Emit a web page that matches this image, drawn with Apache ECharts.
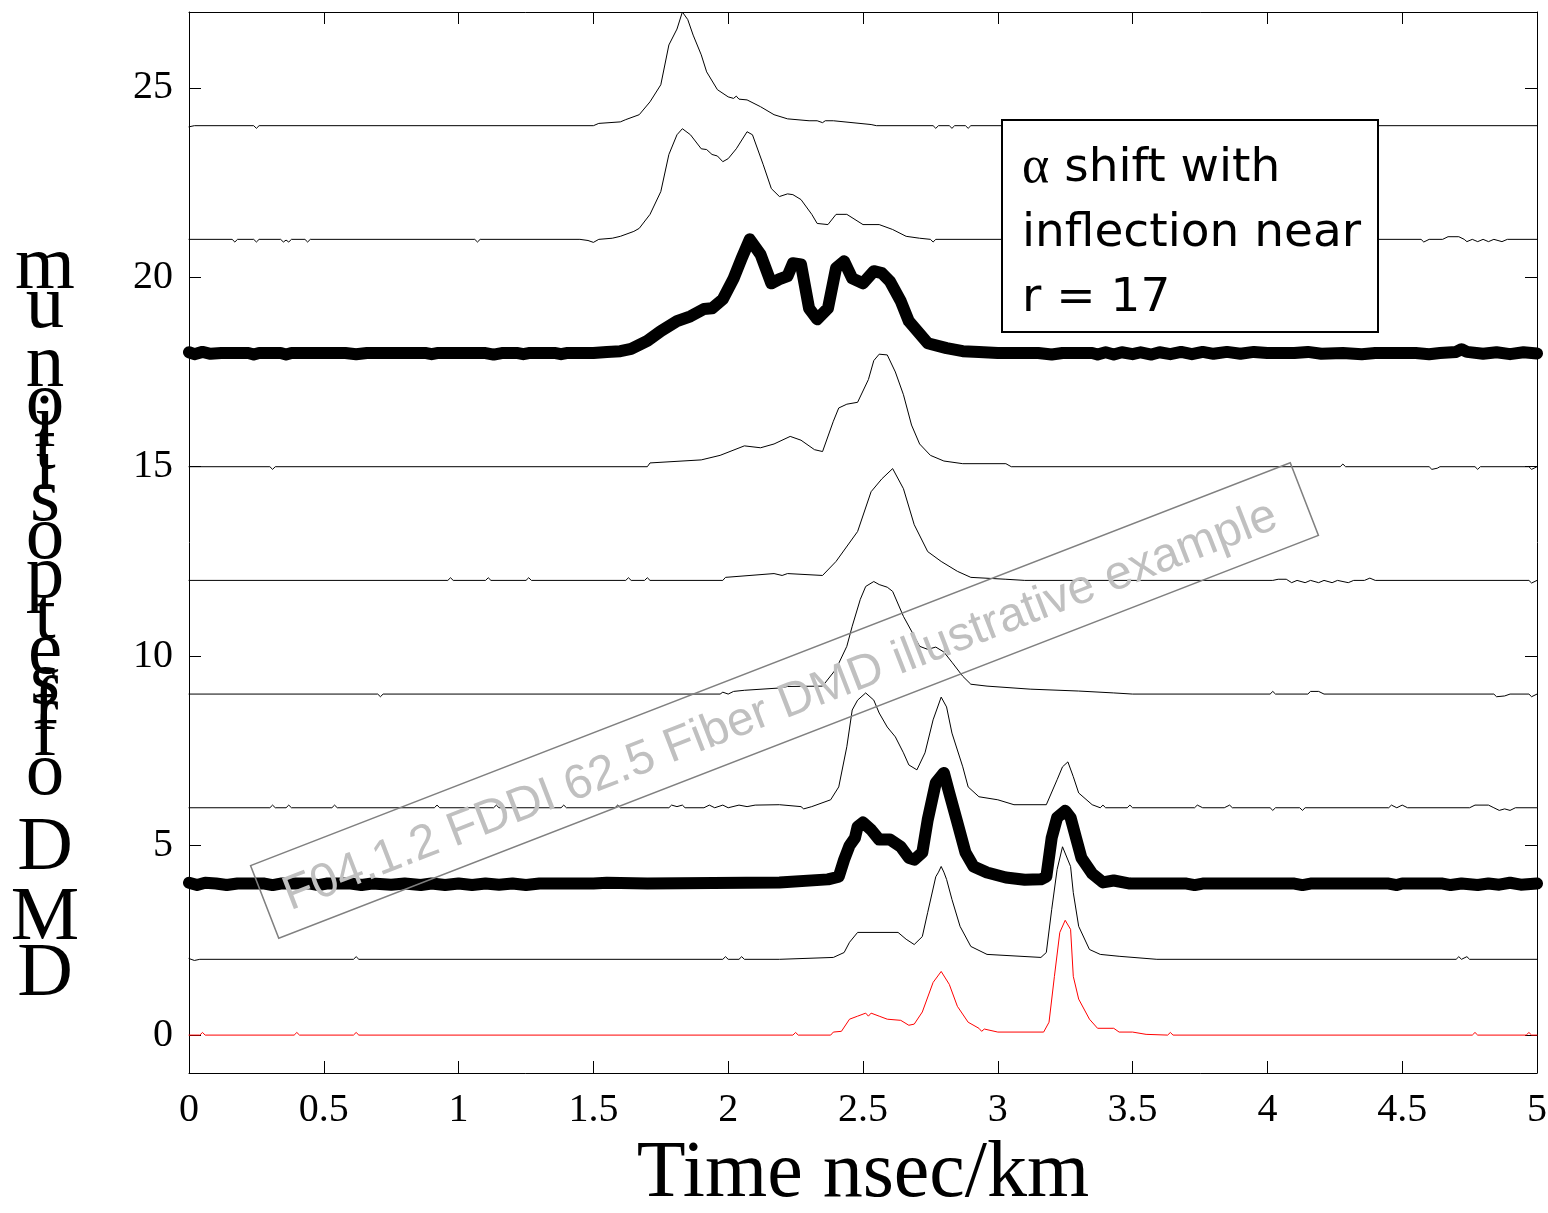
<!DOCTYPE html>
<html><head><meta charset="utf-8">
<script src="https://cdn.jsdelivr.net/npm/echarts@6/dist/echarts.min.js"></script>
<style>html,body{margin:0;padding:0;background:#fff;overflow:hidden}#c{width:1548px;height:1213px}</style>
</head><body><div id="c"></div>
<script>
// ---------------- DATA ----------------
const yTickValues = [0, 5, 10, 15, 20, 25];
const xTitle = 'Time nsec/km';
const yTitle = 'DMD offset position um';
const noteLines = ['α shift with', 'inflection near', 'r = 17'];
const watermarkText = 'F04.1.2 FDDI 62.5 Fiber DMD illustrative example';

const trace24 = [[0,23.97],[0.02,24],[0.24,24],[0.25,23.93],[0.26,24],[1.5,24],[1.52,24.06],[1.6,24.1],[1.62,24.16],[1.67,24.29],[1.71,24.63],[1.75,25.08],[1.78,26.13],[1.81,26.55],[1.83,27.0],[1.85,26.8],[1.87,26.39],[1.90,25.87],[1.92,25.42],[1.96,24.95],[2.00,24.76],[2.02,24.72],[2.03,24.78],[2.04,24.7],[2.07,24.68],[2.12,24.5],[2.17,24.29],[2.22,24.18],[2.30,24.13],[2.33,24.13],[2.35,24.08],[2.36,24.13],[2.39,24.13],[2.53,24.03],[2.55,24],[2.76,24],[2.77,23.93],[2.78,24],[2.82,24],[2.83,23.93],[2.84,24],[2.88,24],[2.89,23.93],[2.9,24],[3.6,24],[3.61,23.93],[3.62,24],[5,24]];

const trace21 = [[0,21],[0.16,21],[0.17,20.93],[0.18,21],[0.24,21],[0.25,20.93],[0.26,21],[0.34,21],[0.35,20.93],[0.36,20.98],[0.37,20.93],[0.38,21],[0.43,21],[0.44,20.93],[0.45,21],[1.06,21],[1.07,20.93],[1.08,21],[1.45,21],[1.48,20.97],[1.50,20.92],[1.52,21],[1.57,21.03],[1.60,21.08],[1.65,21.21],[1.67,21.29],[1.71,21.66],[1.75,22.26],[1.78,23.24],[1.81,23.76],[1.83,23.92],[1.86,23.76],[1.90,23.39],[1.92,23.37],[1.94,23.24],[1.96,23.2],[1.98,23.05],[2.00,23.13],[2.03,23.39],[2.07,23.84],[2.09,23.76],[2.13,22.97],[2.16,22.34],[2.19,22.13],[2.22,22.2],[2.24,22.18],[2.27,22.05],[2.31,21.66],[2.33,21.42],[2.37,21.39],[2.40,21.66],[2.44,21.66],[2.50,21.39],[2.56,21.39],[2.61,21.26],[2.66,21.08],[2.71,21.03],[2.75,21],[2.76,20.93],[2.77,21],[3.2,21],[3.21,20.93],[3.22,21],[4.0,21],[4.02,20.93],[4.04,21],[4.57,21],[4.58,20.93],[4.6,21],[4.65,21],[4.67,21.07],[4.71,21.07],[4.73,21],[4.74,20.94],[4.76,21],[4.78,20.94],[4.8,21],[4.82,20.94],[4.84,21],[4.87,20.94],[4.89,21],[5,21]];

const trace18 = [[0,18.02],[0.02,17.97],[0.05,18.03],[0.08,17.98],[0.12,18.0],[0.22,18.0],[0.24,17.96],[0.26,18.0],[0.34,18.0],[0.36,17.96],[0.38,18.0],[0.58,18.0],[0.62,17.97],[0.66,18.0],[0.88,18.0],[0.9,17.97],[0.92,18.0],[1.1,18.0],[1.13,17.96],[1.16,18.0],[1.22,18.0],[1.24,17.97],[1.26,18.0],[1.36,18.0],[1.38,17.97],[1.4,18.0],[1.5,18.0],[1.55,18.03],[1.6,18.05],[1.64,18.11],[1.70,18.32],[1.75,18.58],[1.81,18.84],[1.86,18.97],[1.91,19.16],[1.94,19.18],[1.98,19.42],[2.02,19.97],[2.05,20.5],[2.08,21.0],[2.12,20.6],[2.16,19.84],[2.19,19.95],[2.22,20.03],[2.24,20.37],[2.27,20.34],[2.30,19.18],[2.33,18.89],[2.37,19.18],[2.40,20.24],[2.43,20.42],[2.46,19.97],[2.50,19.84],[2.54,20.16],[2.57,20.11],[2.60,19.89],[2.64,19.37],[2.67,18.84],[2.74,18.26],[2.81,18.13],[2.87,18.05],[2.93,18.03],[3.0,18.0],[3.15,18.0],[3.2,17.96],[3.24,18.0],[3.35,18.0],[3.37,17.96],[3.4,18.02],[3.43,17.96],[3.46,18.02],[3.5,17.97],[3.53,18.02],[3.57,17.96],[3.6,18.02],[3.64,17.97],[3.68,18.03],[3.72,17.97],[3.76,18.03],[3.8,17.98],[3.85,18.03],[3.9,17.98],[3.95,18.03],[4.0,18.0],[4.1,18.0],[4.15,18.03],[4.2,17.98],[4.28,18.0],[4.35,17.97],[4.4,18.0],[4.55,18.0],[4.6,17.97],[4.64,18.0],[4.7,18.03],[4.72,18.1],[4.74,18.03],[4.8,17.98],[4.85,18.02],[4.9,17.97],[4.95,18.02],[5,17.99]];

const trace15 = [[0,15],[0.3,15],[0.31,14.93],[0.32,15],[1.7,15],[1.71,15.1],[1.90,15.18],[1.97,15.3],[2.06,15.55],[2.12,15.5],[2.17,15.6],[2.23,15.8],[2.27,15.7],[2.32,15.45],[2.35,15.4],[2.39,16.2],[2.41,16.55],[2.44,16.65],[2.48,16.7],[2.52,17.3],[2.54,17.8],[2.56,17.97],[2.59,17.95],[2.62,17.5],[2.65,16.9],[2.68,16.1],[2.71,15.6],[2.75,15.3],[2.80,15.15],[2.87,15.08],[3.03,15.08],[3.05,15.0],[4.27,15],[4.28,15.07],[4.29,15],[4.6,15],[4.61,14.93],[4.63,14.96],[4.64,15],[4.77,15],[4.78,14.93],[4.79,15],[4.97,15],[4.98,14.93],[5,15]];

const trace12 = [[0,12],[0.96,12],[0.97,12.07],[0.98,12],[1.10,12],[1.11,12.07],[1.12,12],[1.25,12],[1.26,12.07],[1.27,12],[1.62,12],[1.63,12.07],[1.64,12],[1.69,12],[1.70,12.07],[1.71,12],[1.98,12],[1.99,12.08],[2.17,12.18],[2.20,12.13],[2.22,12.18],[2.35,12.13],[2.40,12.5],[2.48,13.29],[2.53,14.34],[2.57,14.68],[2.61,14.95],[2.65,14.42],[2.69,13.47],[2.74,12.76],[2.79,12.5],[2.85,12.24],[2.90,12.08],[3.03,12.03],[3.10,12.0],[4.02,12],[4.04,12.03],[4.07,12.03],[4.09,11.94],[4.11,12],[4.14,11.94],[4.16,12],[4.19,11.94],[4.21,12],[4.24,11.94],[4.26,12],[4.3,11.94],[4.32,12],[4.36,12],[4.38,12.06],[4.4,12],[4.97,12],[4.98,11.93],[5,12]];

const trace9 = [[0,9],[0.70,9],[0.71,8.93],[0.72,9],[1.97,9],[1.98,9.05],[2.0,9.0],[2.02,9.07],[2.06,9.1],[2.19,9.16],[2.22,9.2],[2.35,9.21],[2.40,9.66],[2.44,10.26],[2.46,10.79],[2.49,11.5],[2.51,11.84],[2.54,11.97],[2.56,11.89],[2.59,11.82],[2.61,11.71],[2.65,11.05],[2.69,10.53],[2.71,10.26],[2.74,10.18],[2.77,10.24],[2.80,10.11],[2.83,9.84],[2.87,9.47],[2.90,9.26],[2.96,9.21],[3.12,9.13],[3.30,9.08],[3.43,9.03],[3.5,9],[4.01,9],[4.02,9.07],[4.03,9],[4.15,9],[4.16,9.07],[4.19,9.07],[4.21,9],[4.84,9],[4.85,8.93],[4.88,8.95],[4.9,9],[4.97,9],[4.98,8.93],[5,9]];

const trace6 = [[0,6],[0.30,6],[0.31,6.07],[0.32,6],[0.36,6],[0.37,6.07],[0.38,6],[0.53,6],[0.54,6.07],[0.55,6],[0.91,6],[0.92,6.07],[0.93,6],[1.13,6],[1.14,6.07],[1.15,6],[1.38,6],[1.39,6.07],[1.40,6],[1.58,6],[1.59,6.07],[1.60,6],[1.78,6],[1.79,6.07],[1.81,6.03],[1.83,6.07],[1.84,6],[1.91,6],[1.93,6.07],[1.95,6],[1.98,6.07],[2.0,6],[2.04,6.07],[2.07,6.03],[2.10,6.07],[2.19,6.08],[2.27,6.03],[2.28,5.97],[2.31,6.03],[2.38,6.21],[2.41,6.55],[2.44,7.61],[2.46,8.58],[2.48,8.84],[2.51,9.03],[2.54,8.84],[2.56,8.5],[2.59,8.13],[2.62,7.87],[2.65,7.45],[2.67,7.13],[2.70,7.0],[2.73,7.45],[2.76,8.32],[2.79,8.92],[2.81,8.66],[2.83,7.97],[2.87,7.08],[2.89,6.55],[2.93,6.29],[3.00,6.21],[3.06,6.08],[3.18,6.08],[3.22,6.74],[3.24,7.08],[3.26,7.21],[3.28,6.82],[3.30,6.39],[3.35,6.08],[3.38,6.0],[3.39,6.07],[3.40,6],[3.48,6],[3.49,6.07],[3.50,6],[3.73,6],[3.74,6.07],[3.76,6],[3.84,6],[3.86,6.07],[3.87,6],[4.01,6],[4.02,5.93],[4.03,6],[4.12,6],[4.13,5.93],[4.14,6],[4.45,6],[4.46,6.07],[4.48,6],[4.50,6.07],[4.52,6],[4.75,6],[4.77,6.07],[4.82,6.07],[4.84,6],[4.86,5.93],[4.88,5.97],[4.9,5.93],[4.92,6],[5,6]];

const trace4 = [[0,4.02],[0.03,3.96],[0.06,4.02],[0.1,4.0],[0.14,3.96],[0.18,4.0],[0.28,4.0],[0.31,3.96],[0.34,4.0],[0.45,4.0],[0.48,3.96],[0.51,4.0],[0.6,4.0],[0.64,3.96],[0.68,4.0],[0.75,3.97],[0.8,4.0],[0.86,3.96],[0.9,4.0],[0.95,3.96],[1.0,4.0],[1.05,3.96],[1.1,4.0],[1.15,3.97],[1.2,4.0],[1.25,3.96],[1.3,4.0],[1.5,4.0],[1.55,4.02],[1.7,4.0],[2.19,4.03],[2.37,4.11],[2.41,4.18],[2.43,4.63],[2.45,5.0],[2.47,5.2],[2.48,5.5],[2.50,5.61],[2.53,5.42],[2.56,5.16],[2.60,5.16],[2.64,4.97],[2.67,4.68],[2.69,4.63],[2.72,4.82],[2.74,5.68],[2.77,6.66],[2.80,6.92],[2.82,6.39],[2.85,5.61],[2.88,4.82],[2.91,4.45],[2.96,4.29],[3.03,4.16],[3.1,4.1],[3.16,4.11],[3.18,4.18],[3.20,5.21],[3.22,5.74],[3.25,5.92],[3.27,5.74],[3.29,5.21],[3.31,4.68],[3.35,4.26],[3.39,4.03],[3.43,4.08],[3.49,4.0],[3.7,4.0],[3.73,3.96],[3.76,4.0],[4.1,4.0],[4.13,3.96],[4.16,4.0],[4.45,4.0],[4.48,3.96],[4.5,4.0],[4.65,4.0],[4.68,3.96],[4.72,4.0],[4.78,3.96],[4.82,4.0],[4.86,3.97],[4.9,4.02],[4.94,3.97],[5,4.0]];

const trace2 = [[0,2.02],[0.02,1.97],[0.04,2.0],[0.61,2.0],[0.62,2.07],[0.63,2.0],[1.98,2.0],[1.99,2.07],[2.0,2.0],[2.04,2.0],[2.05,2.07],[2.06,2.0],[2.19,2.0],[2.39,2.05],[2.43,2.18],[2.45,2.45],[2.48,2.71],[2.63,2.71],[2.66,2.53],[2.69,2.39],[2.72,2.6],[2.74,3.24],[2.77,4.18],[2.78,4.3],[2.79,4.45],[2.8,4.3],[2.81,4.11],[2.83,3.58],[2.86,2.87],[2.90,2.34],[2.96,2.13],[3.16,2.05],[3.18,2.18],[3.20,3.32],[3.22,4.37],[3.24,4.97],[3.27,4.45],[3.28,3.76],[3.30,2.87],[3.34,2.26],[3.38,2.13],[3.45,2.08],[3.59,2.0],[4.70,2.0],[4.71,2.07],[4.72,2.0],[4.74,2.07],[4.75,2.0],[5,2.0]];

const trace0 = [[0,0],[0.04,0],[0.05,0.07],[0.06,0],[0.39,0],[0.40,0.07],[0.41,0],[0.61,0],[0.62,0.07],[0.63,0],[2.24,0],[2.25,0.07],[2.26,0],[2.38,0],[2.39,0.08],[2.42,0.1],[2.45,0.42],[2.48,0.5],[2.51,0.58],[2.52,0.5],[2.53,0.58],[2.56,0.5],[2.59,0.42],[2.64,0.39],[2.67,0.26],[2.69,0.29],[2.72,0.61],[2.76,1.39],[2.79,1.68],[2.82,1.34],[2.85,0.76],[2.89,0.34],[2.93,0.18],[2.94,0.1],[2.95,0.16],[3.00,0.08],[3.17,0.08],[3.19,0.34],[3.21,1.55],[3.23,2.71],[3.25,3.03],[3.27,2.79],[3.28,1.55],[3.30,0.95],[3.34,0.42],[3.37,0.18],[3.43,0.18],[3.45,0.08],[3.5,0.08],[3.55,0.02],[3.63,0],[3.64,0.07],[3.65,0],[4.76,0],[4.77,0.07],[4.78,0],[4.96,0],[4.97,0.07],[4.98,0],[5,0]];

// ---------------- CHART ----------------
const chart = echarts.init(document.getElementById('c'), null, {renderer: 'canvas', width: 1548, height: 1213});
const SERIF = 'Liberation Serif';

function lineSeries(data, color, width) {
  return {
    type: 'line', data: data, showSymbol: false, symbol: 'none', silent: true,
    animation: false, xAxisIndex: 0, yAxisIndex: 0,
    lineStyle: {color: color, width: width, cap: 'round', join: 'round'}
  };
}

// stacked vertical y-axis title (each glyph upright, stacked bottom-to-top)
const yTitleFont = 77;
const ctx = document.createElement('canvas').getContext('2d');
ctx.font = yTitleFont + 'px "' + SERIF + '"';
const yTitleElems = [];
let base = 998;
for (const ch of yTitle) {
  if (ch !== ' ') {
    yTitleElems.push({
      type: 'text', x: 45, y: base - 0.305 * yTitleFont, z: 100, silent: true,
      style: {text: ch, fontFamily: SERIF, fontSize: yTitleFont, fill: '#000', align: 'center', verticalAlign: 'middle'}
    });
  }
  base -= ctx.measureText(ch).width * 1.01;
}

const noteText = noteLines.map(s => s.replace('α', '{a|α}')).join('\n');
const wmAngle = 21.18 * Math.PI / 180;

const axisLineStyle = {show: true, onZero: false, lineStyle: {color: '#000', width: 1}};
const tickStyle = {show: true, inside: true, length: 12, lineStyle: {color: '#000', width: 1}};

chart.setOption({
  animation: false,
  backgroundColor: '#fff',
  grid: {left: 189, top: 12, width: 1348, height: 1061, containLabel: false, outerBoundsMode: 'none'},
  xAxis: [
    {type: 'value', min: 0, max: 5, interval: 0.5, position: 'bottom',
     axisLine: axisLineStyle, axisTick: tickStyle, splitLine: {show: false},
     axisLabel: {fontFamily: SERIF, fontSize: 40, color: '#000', margin: 17},
     name: xTitle, nameLocation: 'middle', nameGap: 62,
     nameTextStyle: {fontFamily: SERIF, fontSize: 80, color: '#000'}},
    {type: 'value', min: 0, max: 5, interval: 0.5, position: 'top',
     axisLine: axisLineStyle, axisTick: tickStyle, splitLine: {show: false},
     axisLabel: {show: false}}
  ],
  yAxis: [
    {type: 'value', min: -1, max: 27, position: 'left',
     axisLine: axisLineStyle,
     axisTick: Object.assign({customValues: yTickValues}, tickStyle),
     splitLine: {show: false},
     axisLabel: {customValues: yTickValues, fontFamily: SERIF, fontSize: 40, color: '#000', margin: 16}},
    {type: 'value', min: -1, max: 27, position: 'right',
     axisLine: axisLineStyle,
     axisTick: Object.assign({customValues: yTickValues}, tickStyle),
     splitLine: {show: false}, axisLabel: {show: false}}
  ],
  series: [
    lineSeries(trace24, '#000', 1),
    lineSeries(trace21, '#000', 1),
    lineSeries(trace18, '#000', 12),
    lineSeries(trace15, '#000', 1),
    lineSeries(trace12, '#000', 1),
    lineSeries(trace9, '#000', 1),
    lineSeries(trace6, '#000', 1),
    lineSeries(trace4, '#000', 12),
    lineSeries(trace2, '#000', 1),
    lineSeries(trace0, '#ff0000', 1)
  ],
  graphic: [
    ...yTitleElems,
    {type: 'group', x: 784.5, y: 700.5, rotation: wmAngle, z: 90, silent: true, children: [
      {type: 'rect', z: 90, shape: {x: -557.5, y: -39, width: 1115, height: 78},
       style: {fill: 'none', stroke: '#808080', lineWidth: 1.5}},
      {type: 'text', z: 91, x: -6, y: 4,
       style: {text: watermarkText, fontFamily: 'Liberation Sans', fontSize: 48, fill: '#c0c0c0', align: 'center', verticalAlign: 'middle'}}
    ]},
    {type: 'rect', z: 100, silent: true, shape: {x: 1002, y: 120, width: 376, height: 212},
     style: {fill: '#fff', stroke: '#000', lineWidth: 2}},
    {type: 'text', z: 101, silent: true, x: 1022, y: 136,
     style: {text: noteText, fontFamily: 'DejaVu Sans', fontSize: 47, lineHeight: 65, fill: '#000',
             align: 'left', verticalAlign: 'top',
             rich: {a: {fontFamily: SERIF, fontSize: 52, lineHeight: 65, fill: '#000'}}}}
  ]
});
</script></body></html>
